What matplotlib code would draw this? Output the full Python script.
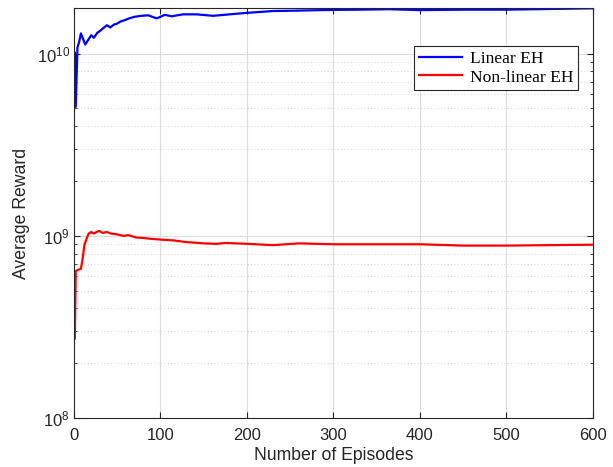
import matplotlib
matplotlib.use("Agg")
import matplotlib.pyplot as plt
from matplotlib.ticker import LogLocator, NullFormatter, MultipleLocator

# values
linear_ep = [1, 2, 4, 6, 8, 10, 13, 16, 20, 23, 27, 30, 34, 38, 42, 46, 50, 54, 58,
             64, 70, 78, 86, 92, 96, 105, 113, 126, 142, 161, 180, 199, 230, 260,
             299, 330, 365, 400, 450, 500, 550, 600]
linear_eh = [1.01e10, 5.1e9, 1.08e10, 1.16e10, 1.29e10, 1.22e10, 1.12e10, 1.18e10,
             1.26e10, 1.22e10, 1.30e10, 1.33e10, 1.38e10, 1.43e10, 1.39e10, 1.44e10,
             1.46e10, 1.50e10, 1.52e10, 1.56e10, 1.59e10, 1.61e10, 1.62e10, 1.58e10,
             1.56e10, 1.63e10, 1.60e10, 1.64e10, 1.64e10, 1.61e10, 1.64e10, 1.67e10,
             1.71e10, 1.72e10, 1.735e10, 1.74e10, 1.75e10, 1.73e10, 1.74e10, 1.74e10,
             1.755e10, 1.77e10]

nonlinear_ep = [1, 2, 4, 8, 10, 12, 15, 17, 20, 23, 26, 29, 33, 38, 43, 50, 57, 63,
                72, 80, 88, 100, 115, 130, 150, 165, 175, 200, 230, 260, 300, 350,
                400, 450, 500, 550, 600]
nonlinear_eh = [2.74e8, 6.4e8, 6.5e8, 6.6e8, 7.5e8, 8.9e8, 9.8e8, 1.03e9, 1.05e9,
                1.03e9, 1.05e9, 1.065e9, 1.04e9, 1.05e9, 1.03e9, 1.02e9, 1.0e9,
                1.01e9, 0.98e9, 0.975e9, 0.965e9, 0.955e9, 0.945e9, 0.925e9, 0.91e9,
                0.905e9, 0.915e9, 0.905e9, 0.89e9, 0.91e9, 0.90e9, 0.90e9, 0.90e9,
                0.885e9, 0.885e9, 0.89e9, 0.895e9]

plt.rcParams["font.family"] = ["Liberation Sans", "DejaVu Sans"]
plt.rcParams["mathtext.fontset"] = "custom"
plt.rcParams["mathtext.rm"] = "Liberation Sans"

fig = plt.figure(figsize=(6.13, 4.67), dpi=100)
ax = fig.add_axes([0.1207, 0.1043, 0.9669 - 0.1207, 0.9822 - 0.1043])

ax.plot(linear_ep, linear_eh, "-", color="#0000ff", lw=1.6, label="Linear EH")
ax.plot(nonlinear_ep, nonlinear_eh, "-", color="#ff0000", lw=1.6, label="Non-linear EH")

ax.set_yscale("log")
ax.set_xlim(0, 600)
ax.set_ylim(1e8, max(linear_eh))
ax.xaxis.set_major_locator(MultipleLocator(100))
ax.yaxis.set_minor_locator(LogLocator(base=10, subs=range(2, 10)))
ax.yaxis.set_minor_formatter(NullFormatter())

ax.grid(True, which="major", color="#dcdcdc", lw=0.8)
ax.grid(True, which="minor", axis="y", color="#c8c8c8", lw=0.6, ls=(0, (1, 3)))
ax.set_axisbelow(True)

for s in ax.spines.values():
    s.set_color("#262626")
    s.set_linewidth(0.8)
ax.tick_params(which="both", direction="in", top=True, right=True,
               colors="#262626", labelsize=12)
ax.tick_params(which="major", length=4)
ax.tick_params(which="minor", length=2.5)
ax.tick_params(axis="x", pad=7)
ax.tick_params(axis="y", pad=3)

ax.set_xlabel("Number of Episodes", fontsize=12.7, color="#262626", labelpad=3)
ax.set_ylabel("Average Reward", fontsize=12.7, color="#262626", labelpad=5)

leg = ax.legend(loc="upper right", bbox_to_anchor=(0.972, 0.908),
                prop={"family": "Liberation Serif", "size": 12.6},
                fancybox=False, framealpha=1, edgecolor="#262626",
                handlelength=2.5, borderpad=0.25, labelspacing=0.15,
                handletextpad=0.45, borderaxespad=0)
leg.get_frame().set_linewidth(0.8)

fig.savefig("out.png", dpi=100)
